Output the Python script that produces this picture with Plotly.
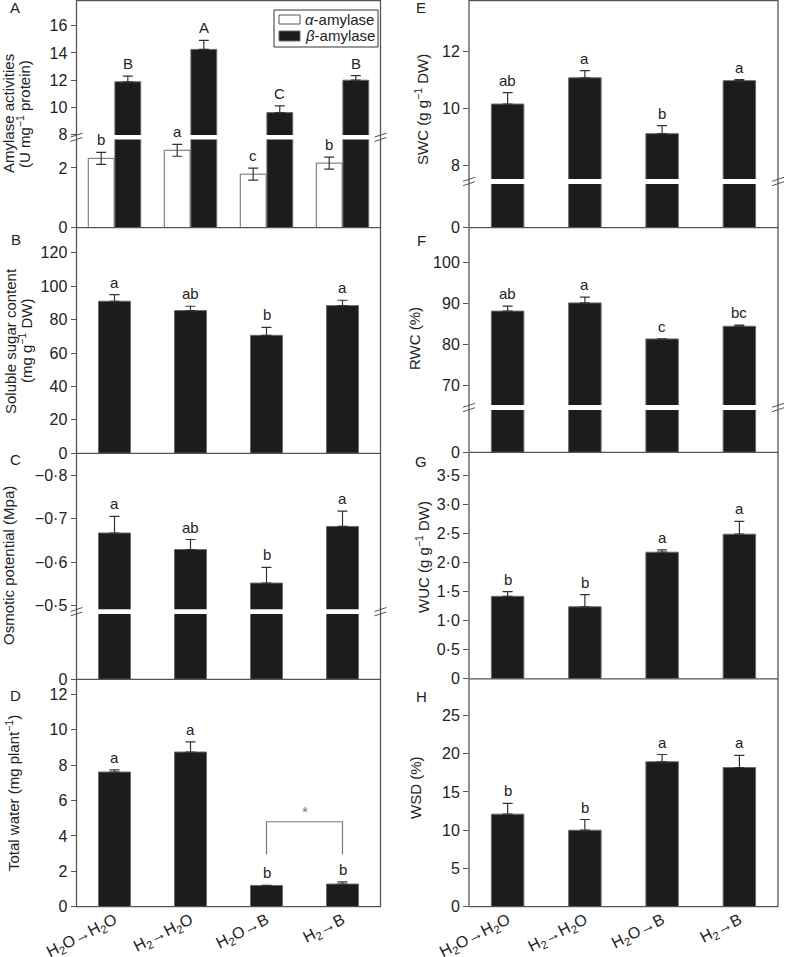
import plotly.graph_objects as go

W, H = 785, 957
FONT = "Liberation Sans, Arial, Helvetica, sans-serif"

# ---------------- data ----------------
categories = ["H<sub>2</sub>O→H<sub>2</sub>O", "H<sub>2</sub>→H<sub>2</sub>O",
              "H<sub>2</sub>O→B", "H<sub>2</sub>→B"]
xpos = [0, 1, 2, 3]

alpha_amylase = [2.32, 2.59, 1.79, 2.16]
alpha_amylase_err = [0.20, 0.20, 0.20, 0.20]
alpha_letters = ["b", "a", "c", "b"]
beta_amylase = [11.87, 14.26, 9.60, 11.99]
beta_amylase_err = [0.42, 0.67, 0.50, 0.34]
beta_letters = ["B", "A", "C", "B"]

sugar = [91.0, 85.4, 70.6, 88.4]
sugar_err = [4.0, 2.6, 4.8, 3.2]
sugar_letters = ["a", "ab", "b", "a"]

osmotic = [-0.667, -0.629, -0.552, -0.682]
osmotic_err = [0.038, 0.023, 0.036, 0.035]
osmotic_letters = ["a", "ab", "b", "a"]

total_water = [7.61, 8.74, 1.20, 1.28]
total_water_err = [0.12, 0.57, 0.0, 0.12]
total_water_letters = ["a", "a", "b", "b"]
bracket_top, bracket_bottom = 4.8, 2.95

swc = [10.16, 11.08, 9.12, 10.98]
swc_err = [0.40, 0.25, 0.28, 0.04]
swc_letters = ["ab", "a", "b", "a"]

rwc = [88.2, 90.2, 81.4, 84.5]
rwc_err = [1.2, 1.4, 0.0, 0.3]
rwc_letters = ["ab", "a", "c", "bc"]

wuc = [1.42, 1.24, 2.18, 2.49]
wuc_err = [0.08, 0.21, 0.04, 0.22]
wuc_letters = ["b", "b", "a", "a"]

wsd = [12.1, 10.0, 18.95, 18.2]
wsd_err = [1.4, 1.4, 0.95, 1.6]
wsd_letters = ["b", "b", "a", "a"]

# ---------------- helpers ----------------
fig = go.Figure()
layout_axes = {}
annotations = []
shapes = []
axis_count = [0]

LEFT = (76.5, 380.5)
RIGHT = (469.0, 778.0)
AX_COLOR = "#555555"
BAR_DARK = "#1c1c1c"
BAR_EDGE = "#6a6a6a"
ERR_COLOR = "#333333"
TXT = "#222222"


def px_x(px):
    return px / W


def px_y(py):
    return 1 - py / H


def add_axes(col, ytop, ybot, yrange, tickvals, ticktext, xlabels=False):
    axis_count[0] += 1
    n = axis_count[0]
    s = "" if n == 1 else str(n)
    xd = [px_x(col[0]), px_x(col[1])]
    layout_axes["xaxis" + s] = dict(
        domain=xd, range=[-0.5, 3.5], anchor="y" + s, showgrid=False,
        zeroline=False, showline=False, fixedrange=True, automargin=False,
        tickvals=xpos if xlabels else [], ticktext=categories if xlabels else [],
        showticklabels=xlabels, ticks="", tickangle=-27,
        tickfont=dict(family=FONT, size=16, color=TXT))
    layout_axes["yaxis" + s] = dict(
        domain=[px_y(ybot), px_y(ytop)], range=yrange, anchor="x" + s,
        showgrid=False, zeroline=False, showline=False, fixedrange=True,
        automargin=False,
        tickvals=tickvals, ticktext=ticktext, ticks="outside", ticklen=5,
        tickwidth=1, tickcolor=AX_COLOR,
        tickfont=dict(family=FONT, size=16, color=TXT))
    return "x" + s, "y" + s


def err(vals, up_only=True):
    return dict(type="data", symmetric=False, array=vals,
                arrayminus=[0] * len(vals) if up_only else vals,
                color=ERR_COLOR, thickness=1.2, width=5)


def bars(xa, ya, vals, errs, color=BAR_DARK, width=0.42, offset=None,
         name=None, up_only=True, with_err=True):
    kw = dict(x=xpos, y=vals, xaxis=xa, yaxis=ya, width=width,
              marker=dict(color=color, line=dict(color=BAR_EDGE, width=1)),
              showlegend=False, name=name, hoverinfo="skip")
    if offset is not None:
        kw["offset"] = offset
    if with_err:
        kw["error_y"] = err(errs, up_only)
    fig.add_trace(go.Bar(**kw))


def letters(xa, ya, vals, errs, labels, dx=0.0, sign=1):
    for i, lab in enumerate(labels):
        annotations.append(dict(
            x=xpos[i] + dx, y=vals[i] + sign * errs[i], xref=xa, yref=ya,
            text=lab, showarrow=False, yanchor="bottom", yshift=2,
            font=dict(family=FONT, size=15, color=TXT)))


def frame(col, ydivs, bottom):
    shapes.append(dict(type="rect", xref="paper", yref="paper",
                       x0=px_x(col[0]), x1=px_x(col[1]), y0=px_y(bottom), y1=px_y(0.5),
                       line=dict(color=AX_COLOR, width=1.3)))
    for yd in ydivs:
        shapes.append(dict(type="line", xref="paper", yref="paper",
                           x0=px_x(col[0]), x1=px_x(col[1]), y0=px_y(yd), y1=px_y(yd),
                           line=dict(color=AX_COLOR, width=1.3)))


def break_marks(col, yc):
    for xc in col:
        for d in (-2.2, 2.2):
            shapes.append(dict(type="line", xref="paper", yref="paper",
                               x0=px_x(xc - 6), y0=px_y(yc + d + 2),
                               x1=px_x(xc + 6), y1=px_y(yc + d - 2),
                               line=dict(color=AX_COLOR, width=1)))


def ytitle(text, xc, yc):
    annotations.append(dict(x=px_x(xc), y=px_y(yc), xref="paper", yref="paper",
                            text=text, textangle=-90, showarrow=False,
                            xanchor="center", yanchor="middle",
                            font=dict(family=FONT, size=15, color=TXT)))


def text_at(text, xc, yc, size=15, xanchor="center"):
    annotations.append(dict(x=px_x(xc), y=px_y(yc), xref="paper", yref="paper",
                            text=text, showarrow=False, xanchor=xanchor, yanchor="middle",
                            font=dict(family=FONT, size=size, color=TXT)))


# ---------------- Panel A (broken axis) ----------------
xa, ya = add_axes(LEFT, 139.5, 227.7, [0, 2.95], [0, 2], ["0", "2"])
bars(xa, ya, alpha_amylase, alpha_amylase_err, color="white", width=0.34, offset=-0.345,
     name="α-amylase", up_only=False)
bars(xa, ya, beta_amylase, beta_amylase_err, width=0.34, offset=0.005, with_err=False)
letters(xa, ya, alpha_amylase, alpha_amylase_err, alpha_letters, dx=-0.175)
xa, ya = add_axes(LEFT, 0, 135.0, [7.95, 17.9], [8, 10, 12, 14, 16],
                  ["8", "10", "12", "14", "16"])
bars(xa, ya, beta_amylase, beta_amylase_err, width=0.34, offset=0.005, name="β-amylase")
letters(xa, ya, beta_amylase, beta_amylase_err, beta_letters, dx=0.175)

# legend box (drawn in panel A)
shapes.append(dict(type="rect", xref="paper", yref="paper", x0=px_x(274), x1=px_x(378),
                   y0=px_y(47), y1=px_y(10), line=dict(color="#333", width=1),
                   fillcolor="white"))
shapes.append(dict(type="rect", xref="paper", yref="paper", x0=px_x(279), x1=px_x(300),
                   y0=px_y(24), y1=px_y(15), line=dict(color="#555", width=1),
                   fillcolor="white"))
shapes.append(dict(type="rect", xref="paper", yref="paper", x0=px_x(279), x1=px_x(300),
                   y0=px_y(41), y1=px_y(31), line=dict(color=BAR_EDGE, width=1),
                   fillcolor=BAR_DARK))
text_at("<i>α</i>-amylase", 303, 19.5, size=15, xanchor="left")
text_at("<i>β</i>-amylase", 303, 36, size=15, xanchor="left")

# ---------------- Panel B ----------------
xa, ya = add_axes(LEFT, 227.7, 453.3, [0, 135], [0, 20, 40, 60, 80, 100, 120],
                  ["0", "20", "40", "60", "80", "100", "120"])
bars(xa, ya, sugar, sugar_err)
letters(xa, ya, sugar, sugar_err, sugar_letters)

# ---------------- Panel C (broken, reversed) ----------------
xa, ya = add_axes(LEFT, 614.0, 679.3, [0, -0.45], [0], ["0"])
bars(xa, ya, osmotic, osmotic_err, with_err=False)
xa, ya = add_axes(LEFT, 453.3, 609.3, [-0.4917, -0.85], [-0.8, -0.7, -0.6, -0.5],
                  ["−0·8", "−0·7", "−0·6", "−0·5"])
bars(xa, ya, osmotic, [-e for e in osmotic_err])
letters(xa, ya, osmotic, osmotic_err, osmotic_letters, sign=-1)

# ---------------- Panel D ----------------
xa, ya = add_axes(LEFT, 679.3, 906.7, [0, 12.85], [0, 2, 4, 6, 8, 10, 12],
                  ["0", "2", "4", "6", "8", "10", "12"], xlabels=True)
bars(xa, ya, total_water, total_water_err)
letters(xa, ya, total_water, total_water_err, total_water_letters)
shapes.append(dict(type="path", xref=xa, yref=ya,
                   path=f"M 2 {bracket_bottom} L 2 {bracket_top} L 3 {bracket_top} L 3 {bracket_bottom}",
                   line=dict(color="#777", width=1.2)))
annotations.append(dict(x=2.5, y=bracket_top, xref=xa, yref=ya, text="*", showarrow=False,
                        yanchor="bottom", yshift=0, font=dict(family=FONT, size=15, color="#777")))

# ---------------- Panel E (broken) ----------------
xa, ya = add_axes(RIGHT, 184.0, 227.7, [0, 7], [0], ["0"])
bars(xa, ya, swc, swc_err, with_err=False)
xa, ya = add_axes(RIGHT, 0, 179.0, [7.53, 13.81], [8, 10, 12], ["8", "10", "12"])
bars(xa, ya, swc, swc_err)
letters(xa, ya, swc, swc_err, swc_letters)

# ---------------- Panel F (broken) ----------------
xa, ya = add_axes(RIGHT, 410.0, 452.3, [0, 60], [0], ["0"])
bars(xa, ya, rwc, rwc_err, with_err=False)
xa, ya = add_axes(RIGHT, 227.7, 405.0, [65.28, 108.56], [70, 80, 90, 100],
                  ["70", "80", "90", "100"])
bars(xa, ya, rwc, rwc_err)
letters(xa, ya, rwc, rwc_err, rwc_letters)

# ---------------- Panel G ----------------
xa, ya = add_axes(RIGHT, 452.3, 678.8, [0, 3.9], [0, 0.5, 1, 1.5, 2, 2.5, 3, 3.5],
                  ["0", "0·5", "1·0", "1·5", "2·0", "2·5", "3·0", "3·5"])
bars(xa, ya, wuc, wuc_err)
letters(xa, ya, wuc, wuc_err, wuc_letters)

# ---------------- Panel H ----------------
xa, ya = add_axes(RIGHT, 678.8, 906.7, [0, 29.8], [0, 5, 10, 15, 20, 25],
                  ["0", "5", "10", "15", "20", "25"], xlabels=True)
bars(xa, ya, wsd, wsd_err)
letters(xa, ya, wsd, wsd_err, wsd_letters)

# ---------------- frames, breaks, titles ----------------
frame(LEFT, [227.7, 453.3, 679.3], 906.7)
frame(RIGHT, [227.7, 452.3, 678.8], 906.7)
break_marks(LEFT, 137.3)
break_marks(LEFT, 611.7)
break_marks(RIGHT, 181.5)
break_marks(RIGHT, 407.5)

ytitle("Amylase activities", 9, 114)
ytitle("(U mg<sup>−1</sup> protein)", 24, 114)
ytitle("Soluble sugar content", 10, 341)
ytitle("(mg g<sup>−1</sup> DW)", 25, 341)
ytitle("Osmotic potential (Mpa)", 8, 566)
ytitle("Total water (mg plant<sup>−1</sup>)", 12, 793)
ytitle("SWC (g g<sup>−1</sup> DW)", 422, 110)
ytitle("RWC (%)", 415, 339)
ytitle("WUC (g g<sup>−1</sup> DW)", 422, 557)
ytitle("WSD (%)", 415, 788)

for lab, x, y in [("A", 15, 8), ("B", 16, 240), ("C", 15, 460), ("D", 15, 695),
                  ("E", 421, 8), ("F", 421, 241), ("G", 421, 461), ("H", 421, 696)]:
    text_at(lab, x, y)

fig.update_layout(
    width=W, height=H, margin=dict(l=0, r=0, t=0, b=0, pad=0, autoexpand=False),
    paper_bgcolor="white", plot_bgcolor="rgba(0,0,0,0)",
    barmode="overlay", showlegend=False,
    annotations=annotations, shapes=shapes,
    font=dict(family=FONT, size=15, color=TXT),
    **layout_axes,
)

fig.write_html("out.html", config={"displayModeBar": False},
               post_script="document.body.style.margin='0px';")
